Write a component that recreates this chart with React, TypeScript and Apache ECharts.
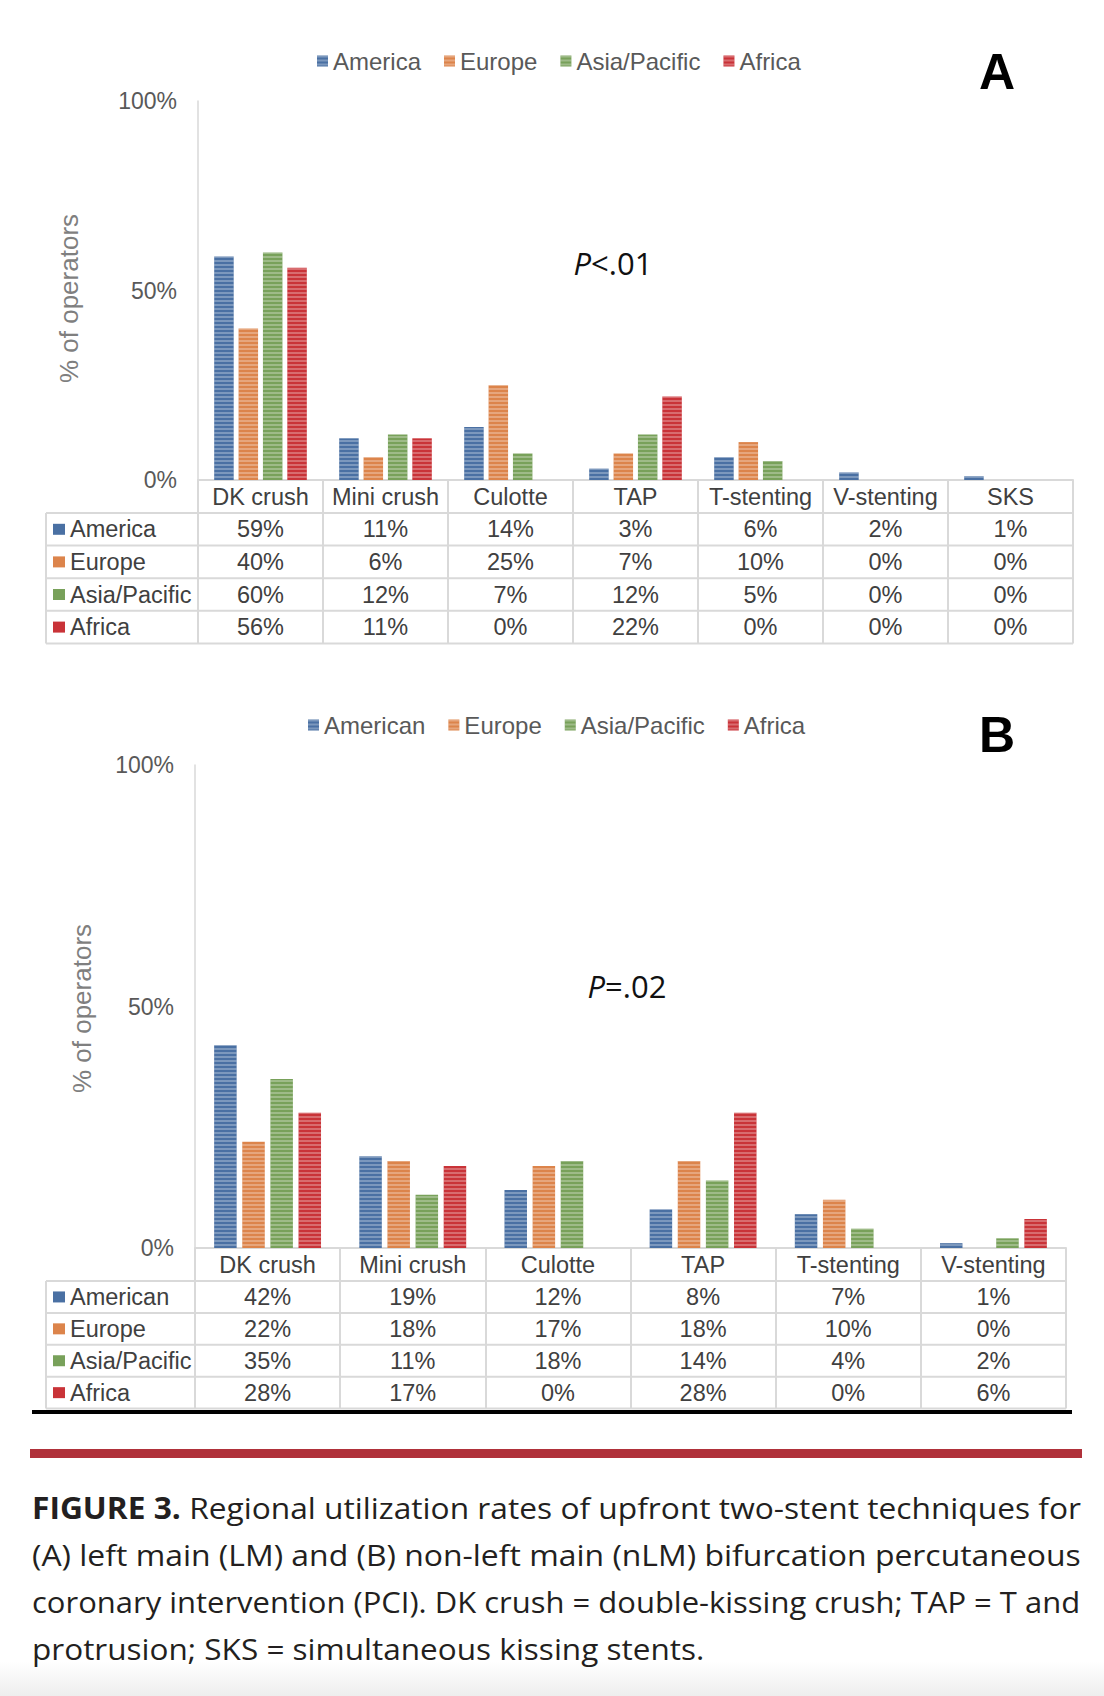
import React, { useEffect, useRef } from 'react';
import * as echarts from 'echarts';

// ---------- DATA ----------
const regionsA = ['America', 'Europe', 'Asia/Pacific', 'Africa'];
const regionsB = ['American', 'Europe', 'Asia/Pacific', 'Africa'];
const techniquesA = ['DK crush', 'Mini crush', 'Culotte', 'TAP', 'T-stenting', 'V-stenting', 'SKS'];
const techniquesB = ['DK crush', 'Mini crush', 'Culotte', 'TAP', 'T-stenting', 'V-stenting'];
const americaA = [59, 11, 14, 3, 6, 2, 1];
const europeA = [40, 6, 25, 7, 10, 0, 0];
const asiaA = [60, 12, 7, 12, 5, 0, 0];
const africaA = [56, 11, 0, 22, 0, 0, 0];
const americanB = [42, 19, 12, 8, 7, 1];
const europeB = [22, 18, 17, 18, 10, 0];
const asiaB = [35, 11, 18, 14, 4, 2];
const africaB = [28, 17, 0, 28, 0, 6];
const yMax = 100;
const yInterval = 50;
const pTextA = '<.01';
const pTextB = '=.02';
const panelA = 'A';
const panelB = 'B';
const yName = '% of operators';
const captionBold = 'FIGURE 3.';
const captionLines = [
  ' Regional utilization rates of upfront two-stent techniques for',
  '(A) left main (LM) and (B) non-left main (nLM) bifurcation percutaneous',
  'coronary intervention (PCI). DK crush = double-kissing crush; TAP = T and',
  'protrusion; SKS = simultaneous kissing stents.',
];

// ---------- STYLE / LAYOUT ----------
const colors = ['#4a70a3', '#dc844b', '#78a15a', '#c93338'];
const W = 1104;
const H = 1696;
const FONT = '"Liberation Sans", Arial, sans-serif';
const CAP_FONT = '"Open Sans", "Noto Sans", sans-serif';
const GRID_LINE = '#d9d9d9';
const TXT = '#404040';
const TABLE_FS = 23.5;

const LA = { left: 198, right: 1073, top: 101, bottom: 480, tableLeft: 46, headerH: 33, rowH: 32.6, barW: 19.5, nameGap: 116, nameShift: 16, legendLeft: 317, legendTop: 49 };
const LB = { left: 195, right: 1066, top: 765, bottom: 1248, tableLeft: 46, headerH: 33, rowH: 31.9, barW: 22.5, nameGap: 100, nameShift: 4, legendLeft: 308, legendTop: 713 };

const decal = {
  symbol: 'rect',
  symbolSize: 1,
  dashArrayX: [1, 0],
  dashArrayY: [2, 2],
  color: 'rgba(255,255,255,0.28)',
};

function measure(text: string, font: string) {
  const c = document.createElement('canvas').getContext('2d')!;
  c.font = font;
  return c.measureText(text).width;
}

function buildTable(L: any, cats: string[], regions: string[], values: number[][]) {
  const els: any[] = [];
  const colW = (L.right - L.left) / cats.length;
  const t0 = L.bottom + L.headerH;
  for (let i = 0; i <= regions.length; i++) {
    const y = t0 + i * L.rowH;
    els.push({ type: 'line', shape: { x1: L.tableLeft, y1: y, x2: L.right, y2: y }, style: { stroke: GRID_LINE, lineWidth: 2 }, silent: true });
  }
  els.push({ type: 'line', shape: { x1: L.tableLeft, y1: t0, x2: L.tableLeft, y2: t0 + regions.length * L.rowH }, style: { stroke: GRID_LINE, lineWidth: 2 }, silent: true });
  regions.forEach((r, i) => {
    const cy = t0 + (i + 0.5) * L.rowH;
    els.push({ type: 'rect', shape: { x: L.tableLeft + 7, y: cy - 5.5, width: 12, height: 11 }, style: { fill: colors[i] }, silent: true });
    els.push({ type: 'text', x: L.tableLeft + 24, y: cy, style: { text: r, font: `${TABLE_FS}px ${FONT}`, fill: TXT, textAlign: 'left', textVerticalAlign: 'middle' }, silent: true });
    values[i].forEach((v, j) => {
      els.push({ type: 'text', x: L.left + (j + 0.5) * colW, y: cy, style: { text: `${v}%`, font: `${TABLE_FS}px ${FONT}`, fill: TXT, textAlign: 'center', textVerticalAlign: 'middle' }, silent: true });
    });
  });
  return els;
}

export default function App() {
  const ref = useRef<HTMLDivElement>(null);
  useEffect(() => {
    document.body.style.margin = '0';
    const chart = echarts.init(ref.current!, null, { renderer: 'svg', width: W, height: H });

    const grids = [LA, LB].map((L) => ({ left: L.left, top: L.top, width: L.right - L.left, height: L.bottom - L.top }));
    const xAxes = [
      { L: LA, cats: techniquesA },
      { L: LB, cats: techniquesB },
    ].map(({ L, cats }, gi) => ({
      type: 'category',
      gridIndex: gi,
      data: cats,
      axisLine: { lineStyle: { color: GRID_LINE, width: 2 } },
      axisTick: { show: true, interval: 0, length: L.headerH + 4 * L.rowH, lineStyle: { color: GRID_LINE, width: 2 } },
      axisLabel: { interval: 0, fontSize: TABLE_FS, fontFamily: FONT, color: TXT, margin: 5 },
    }));
    const yAxes = [LA, LB].map((L, gi) => ({
      type: 'value',
      gridIndex: gi,
      min: 0,
      max: yMax,
      interval: yInterval,
      name: yName,
      nameLocation: 'middle',
      nameRotate: 90,
      nameGap: L.nameGap,
      nameTextStyle: { fontSize: 26, fontFamily: FONT, color: '#7f7f7f', padding: [0, L.nameShift, 0, 0] },
      axisLine: { show: true, lineStyle: { color: GRID_LINE, width: 1.5 } },
      axisTick: { show: false },
      splitLine: { show: false },
      axisLabel: { formatter: '{value}%', fontSize: 23, fontFamily: FONT, color: '#595959', margin: 21 },
    }));

    const valsA = [americaA, europeA, asiaA, africaA];
    const valsB = [americanB, europeB, asiaB, africaB];
    const series: any[] = [];
    regionsA.forEach((r, i) => series.push({
      type: 'bar', name: r, xAxisIndex: 0, yAxisIndex: 0, data: valsA[i], barWidth: LA.barW, barGap: '25%',
      itemStyle: { color: colors[i], decal },
    }));
    regionsB.forEach((r, i) => series.push({
      type: 'bar', name: r, xAxisIndex: 1, yAxisIndex: 1, data: valsB[i], barWidth: LB.barW, barGap: '25%',
      itemStyle: { color: colors[i], decal },
    }));

    const legendCommon = {
      icon: 'rect', itemWidth: 11, itemHeight: 11, itemGap: 23, padding: 0, selectedMode: false,
      textStyle: { fontSize: 24, fontFamily: FONT, color: '#595959' },
    };

    // caption
    const capSize = 30;
    const fReg = `${capSize}px ${CAP_FONT}`;
    const fBold = `bold ${capSize}px ${CAP_FONT}`;
    const capLeft = 32;
    const capRight = 1081;
    const capYs = [1507, 1554, 1601, 1648];
    const boldW = measure(captionBold, fBold);
    const widths = captionLines.map((t, i) => measure(t, fReg) + (i === 0 ? boldW : 0));
    const scales = widths.map((w) => (capRight - capLeft) / w);
    scales[3] = (scales[0] + scales[1] + scales[2]) / 3;
    const caption: any[] = captionLines.map((t, i) => ({
      type: 'group', x: capLeft, y: capYs[i], scaleX: scales[i], silent: true,
      children: [
        ...(i === 0 ? [{ type: 'text', x: 0, y: 0, style: { text: captionBold, font: fBold, fill: '#231f20', textVerticalAlign: 'middle' } }] : []),
        { type: 'text', x: i === 0 ? boldW : 0, y: 0, style: { text: t, font: fReg, fill: '#231f20', textVerticalAlign: 'middle' } },
      ],
    }));

    const pRich = (t: string) => ({
      text: `{i|P}{n|${t}}`,
      rich: {
        i: { fontStyle: 'italic', fontSize: 31, fontFamily: CAP_FONT, fill: '#111' },
        n: { fontSize: 31, fontFamily: CAP_FONT, fill: '#111' },
      },
      textAlign: 'center', textVerticalAlign: 'middle',
    });

    const graphic: any[] = [
      { type: 'rect', shape: { x: 0, y: 1662, width: W, height: 34 }, style: { fill: new echarts.graphic.LinearGradient(0, 0, 0, 1, [{ offset: 0, color: '#ffffff' }, { offset: 1, color: '#eeeeee' }]) }, silent: true },
      ...buildTable(LA, techniquesA, regionsA, valsA),
      ...buildTable(LB, techniquesB, regionsB, valsB),
      { type: 'text', x: 997, y: 72, style: { text: panelA, font: `bold 50px ${FONT}`, fill: '#000', textAlign: 'center', textVerticalAlign: 'middle' }, silent: true },
      { type: 'text', x: 997, y: 735, style: { text: panelB, font: `bold 50px ${FONT}`, fill: '#000', textAlign: 'center', textVerticalAlign: 'middle' }, silent: true },
      { type: 'text', x: 613, y: 263, style: pRich(pTextA), silent: true },
      { type: 'text', x: 627, y: 986, style: pRich(pTextB), silent: true },
      { type: 'rect', shape: { x: 32, y: 1410, width: 1040, height: 4 }, style: { fill: '#000' }, silent: true },
      { type: 'rect', shape: { x: 30, y: 1449, width: 1052, height: 9 }, style: { fill: '#b0313a' }, silent: true },
      ...caption,
    ];

    chart.setOption({
      animation: false,
      backgroundColor: '#ffffff',
      color: colors,
      grid: grids,
      xAxis: xAxes,
      yAxis: yAxes,
      legend: [
        { ...legendCommon, data: regionsA, left: LA.legendLeft, top: LA.legendTop },
        { ...legendCommon, data: regionsB, left: LB.legendLeft, top: LB.legendTop },
      ],
      series,
      graphic,
    });
    return () => chart.dispose();
  }, []);
  return <div ref={ref} style={{ width: W, height: H }} />;
}
